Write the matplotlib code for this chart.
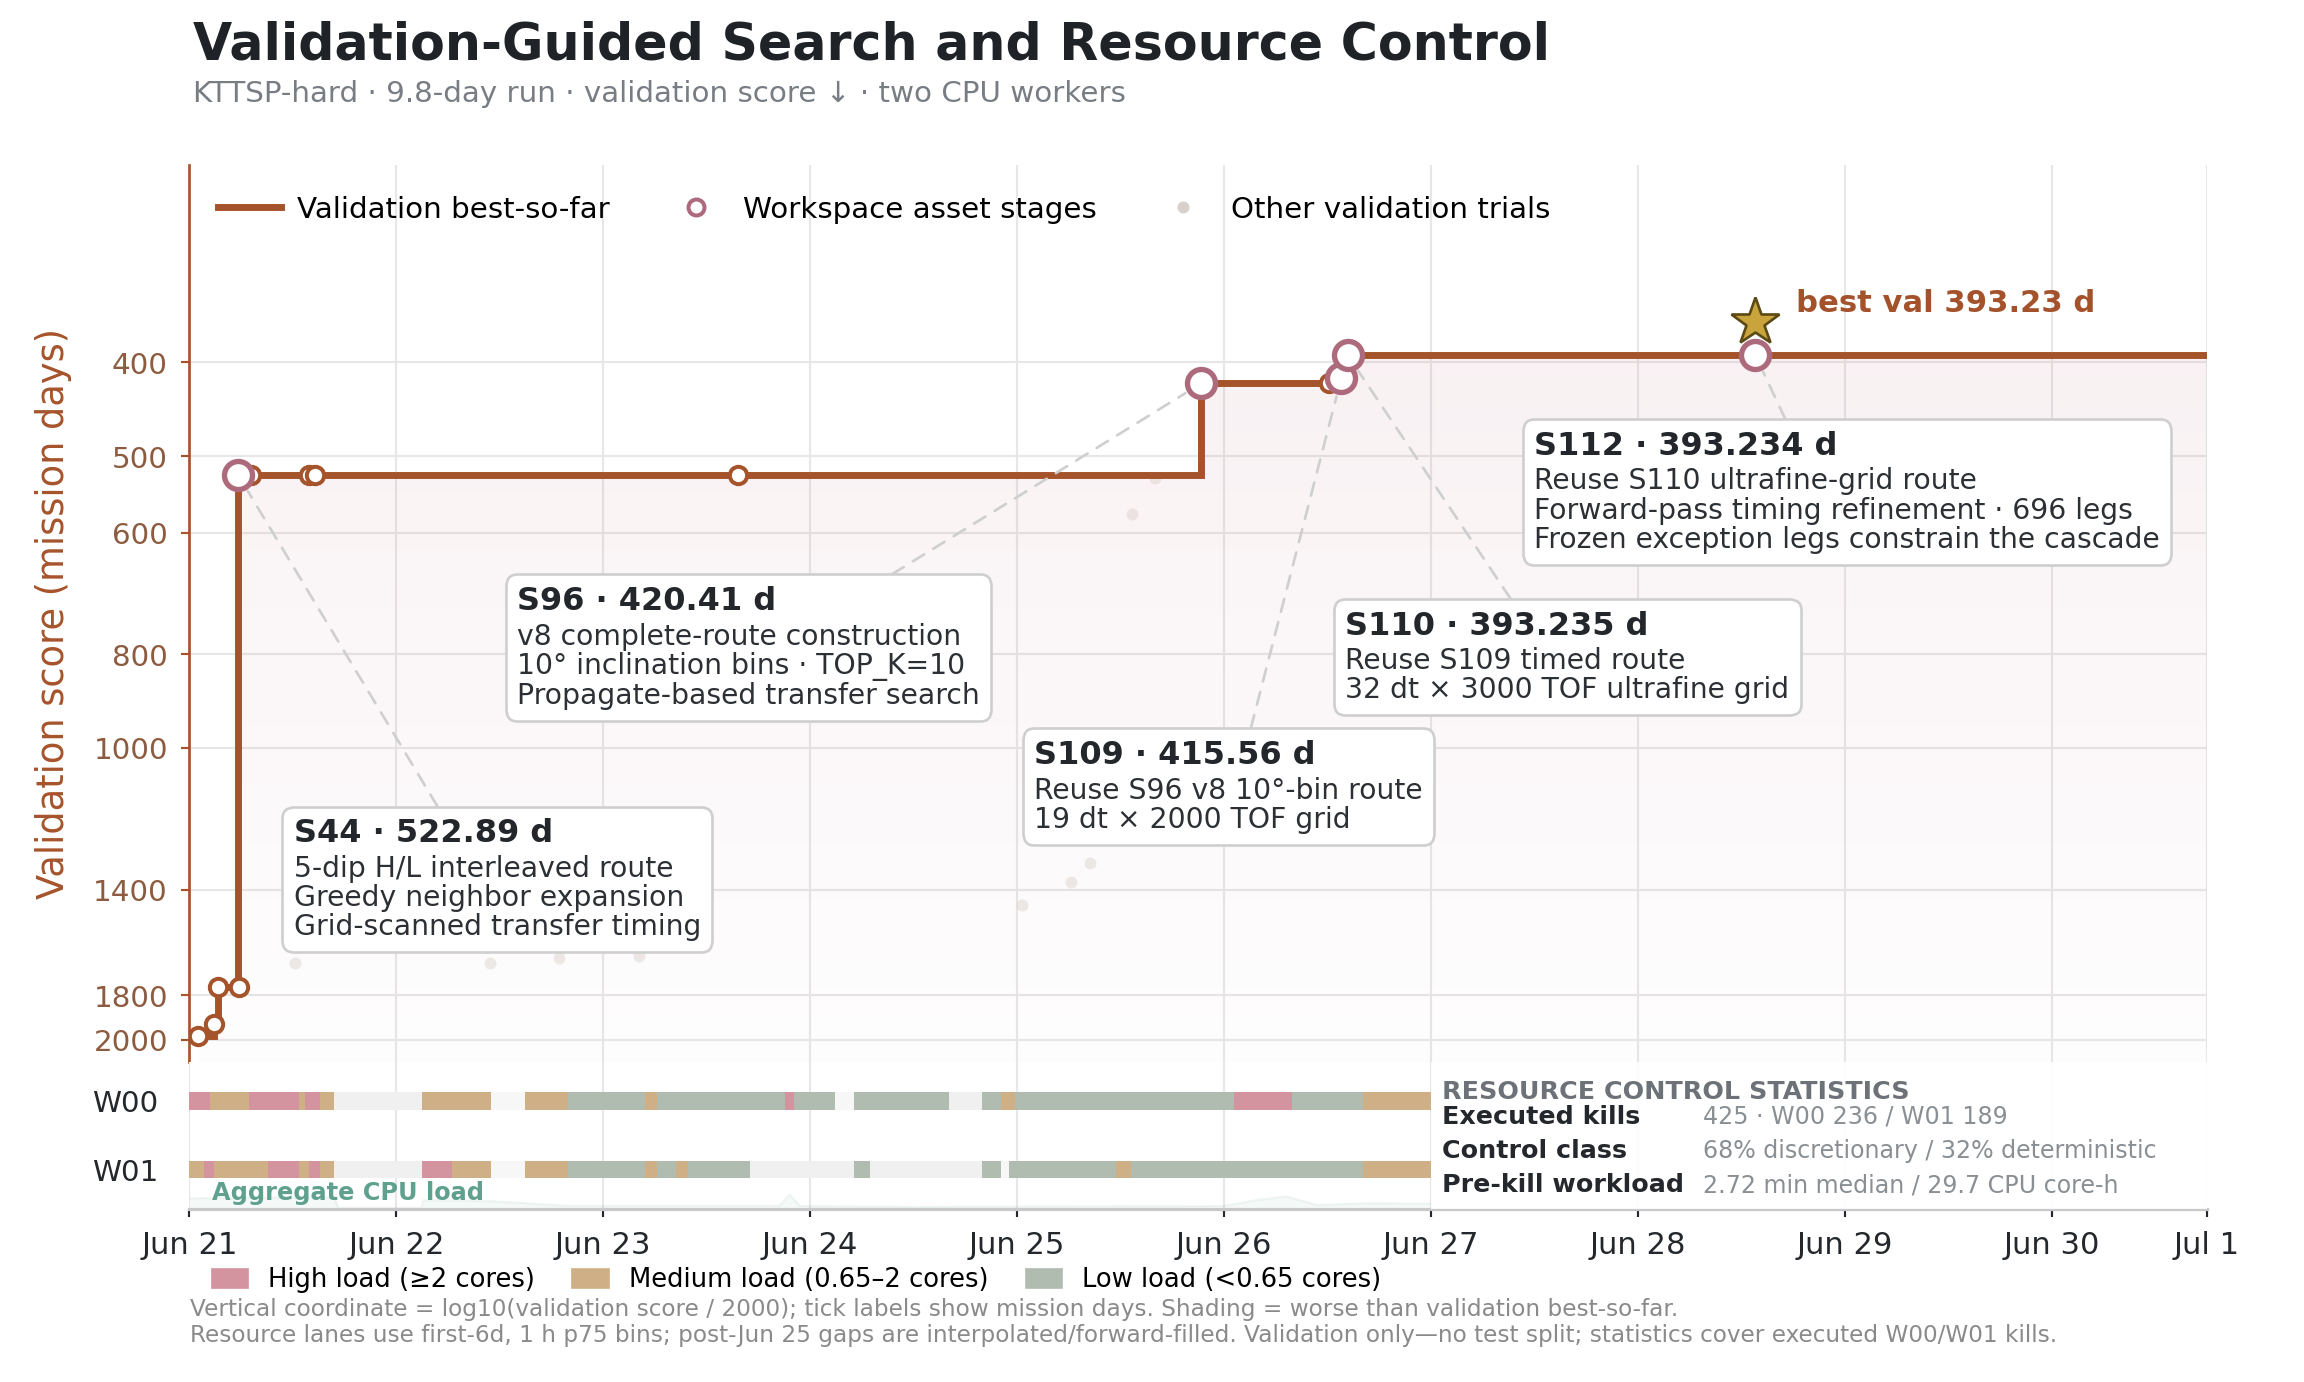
import math
from datetime import date, timedelta

import numpy as np
import matplotlib
matplotlib.use("Agg")
import matplotlib.pyplot as plt
from matplotlib import transforms
from matplotlib.lines import Line2D
from matplotlib.patches import Patch, Polygon, Rectangle
from matplotlib.offsetbox import TextArea, VPacker, AnnotationBbox

START = date(2025, 6, 21)
RUN_DAYS = 9.75

# validation best-so-far improvements (days since Jun 21, mission days)
best_t = [0.042, 0.12, 0.14, 0.236, 4.89, 5.566, 5.598, 7.567]
best_v = [1981, 1925, 1762, 522.89, 420.41, 415.56, 393.235, 393.234]

# workspace asset stages that did not get a callout
stage_t = [0.042, 0.12, 0.14, 0.24, 0.298, 0.577, 0.606, 2.65, 5.505]
stage_v = [1981, 1925, 1762, 1762, 522.89, 522.89, 522.89, 522.89, 420.41]

# called-out stages
key_t = [0.236, 4.89, 5.566, 5.598, 7.567]
key_v = [522.89, 420.41, 415.56, 393.235, 393.234]
key_title = ["S44 · 522.89 d", "S96 · 420.41 d", "S109 · 415.56 d",
             "S110 · 393.235 d", "S112 · 393.234 d"]
key_notes = [
    "5-dip H/L interleaved route\nGreedy neighbor expansion\nGrid-scanned transfer timing",
    "v8 complete-route construction\n10° inclination bins · TOP_K=10\nPropagate-based transfer search",
    "Reuse S96 v8 10°-bin route\n19 dt × 2000 TOF grid",
    "Reuse S109 timed route\n32 dt × 3000 TOF ultrafine grid",
    "Reuse S110 ultrafine-grid route\nForward-pass timing refinement · 696 legs\nFrozen exception legs constrain the cascade",
]

# other validation trials
trial_t = [0.511, 1.453, 1.787, 2.174, 4.025, 4.26, 4.352, 4.556, 4.667]
trial_v = [1668, 1668, 1646, 1638, 1452, 1376, 1315, 574, 527]

ytick_vals = [400, 500, 600, 800, 1000, 1400, 1800, 2000]

# resource lanes: (start day, end day, load class); G = no sample
w00_segs = [(0.00, 0.10, "H"), (0.10, 0.29, "M"), (0.29, 0.53, "H"), (0.53, 0.56, "M"),
            (0.56, 0.63, "H"), (0.63, 0.70, "M"), (0.70, 1.126, "G"), (1.126, 1.458, "M"),
            (1.62, 1.83, "M"), (1.83, 2.20, "L"), (2.20, 2.26, "M"), (2.26, 2.88, "L"),
            (2.88, 2.92, "H"), (2.92, 3.12, "L"), (3.21, 3.67, "L"), (3.67, 3.83, "G"),
            (3.83, 3.92, "L"), (3.92, 3.99, "M"), (3.99, 5.05, "L"), (5.05, 5.33, "H"),
            (5.33, 5.67, "L"), (5.67, 6.00, "M")]
w01_segs = [(0.00, 0.07, "M"), (0.07, 0.12, "H"), (0.12, 0.38, "M"), (0.38, 0.53, "H"),
            (0.53, 0.58, "M"), (0.58, 0.63, "H"), (0.63, 0.70, "M"), (0.70, 1.126, "G"),
            (1.126, 1.27, "H"), (1.27, 1.458, "M"), (1.62, 1.83, "M"), (1.83, 2.20, "L"),
            (2.20, 2.26, "M"), (2.26, 2.35, "L"), (2.35, 2.41, "M"), (2.41, 2.71, "L"),
            (2.71, 3.21, "G"), (3.21, 3.29, "L"), (3.29, 3.83, "G"), (3.83, 3.92, "L"),
            (3.96, 4.48, "L"), (4.48, 4.55, "M"), (4.55, 5.67, "L"), (5.67, 6.00, "M")]
LANE_END = 6.0

# aggregate CPU load (cores), coarse
agg_t = [0.0, 0.7, 0.72, 1.12, 1.13, 1.46, 1.62, 1.83, 2.85, 2.9, 2.95, 3.5, 4.0, 5.0, 5.15, 5.3, 5.45, 5.7, 6.0]
agg_v = [2.2, 2.4, 0.2, 0.2, 1.8, 1.6, 1.2, 0.6, 0.6, 3.0, 0.6, 0.4, 0.5, 0.6, 1.8, 2.6, 0.8, 1.2, 1.1]

stats_labels = ["Executed kills", "Control class", "Pre-kill workload"]
stats_values = ["425 · W00 236 / W01 189", "68% discretionary / 32% deterministic",
                "2.72 min median / 29.7 CPU core-h"]

LINE = "#a5532b"
MAUVE = "#ad6a7c"
TRIAL = "#d8d0ca"
LOAD_COL = {"H": "#d4949f", "M": "#cfb086", "L": "#b0bcaf", "G": "#f0f0f0"}
GRID = "#e7e7e7"


def yv(v):
    return math.log10(v / 2000.0)


fig = plt.figure(figsize=(12, 7.2), dpi=192)
ax = fig.add_axes([0.0822, 0.2316, 0.8757, 0.6490])
ax2 = fig.add_axes([0.0822, 0.1252, 0.8757, 0.1064], sharex=ax)

y_top, y_bot = -0.903, 0.0227

# best-so-far step path
xs, ys = [best_t[0]], [yv(best_v[0])]
for i in range(1, len(best_t)):
    xs += [best_t[i], best_t[i]]
    ys += [yv(best_v[i - 1]), yv(best_v[i])]
xs.append(RUN_DAYS)
ys.append(yv(best_v[-1]))

# gradient shading below best-so-far
verts = list(zip(xs, ys)) + [(RUN_DAYS, y_bot), (xs[0], y_bot)]
clip = Polygon(verts, closed=True, facecolor="none", edgecolor="none")
ax.add_patch(clip)
grad = np.zeros((256, 1, 4))
grad[..., 0], grad[..., 1], grad[..., 2] = 0.78, 0.49, 0.55
grad[:, 0, 3] = np.linspace(0.01, 0.13, 256)
im = ax.imshow(grad, extent=(0, RUN_DAYS, y_bot, y_top), origin="lower",
               aspect="auto", zorder=1, interpolation="bicubic")
im.set_clip_path(clip)

ax.plot(trial_t, [yv(v) for v in trial_v], "o", ms=4.5, color=TRIAL,
        alpha=0.45, mec="none", zorder=2)
ax.plot(xs, ys, color=LINE, lw=2.6, zorder=3, solid_joinstyle="miter")
ax.plot(stage_t, [yv(v) for v in stage_v], "o", ms=6.5, mfc="white", mec=LINE,
        mew=1.5, zorder=4)
ax.plot(key_t, [yv(v) for v in key_v], "o", ms=10.5, mfc="white", mec=MAUVE,
        mew=2.0, zorder=5)

# best marker
bi = int(np.argmin(best_v))
bt, bv = best_t[bi], best_v[bi]
star_tr = transforms.offset_copy(ax.transData, fig=fig, x=0, y=12.4, units="points")
ax.plot(bt, yv(bv), marker="*", ms=19, mfc="#c9a33c", mec="#5c4a14", mew=1,
        transform=star_tr, zorder=6, clip_on=False)
ax.annotate(f"best val {math.floor(bv * 100) / 100:.2f} d", xy=(bt, yv(bv)),
            xytext=(15.4, 19.4), textcoords="offset points", fontsize=11.5,
            fontweight="bold", color="#a3522b", va="center", ha="left")

# callouts
box_pos = [(0.504, 0.229), (1.583, 0.4685), (4.082, 0.3096), (5.585, 0.4432), (6.499, 0.6285)]
rel_pos = [(0.37, 1.0), (0.77, 1.0), (0.55, 1.0), (0.39, 1.0), (0.41, 1.0)]
for i in range(len(key_t)):
    title = TextArea(key_title[i], textprops=dict(fontsize=12, fontweight="bold", color="#23272b"))
    body = TextArea(key_notes[i], textprops=dict(fontsize=10.6, color="#2c3034", linespacing=1.05))
    pack = VPacker(children=[title, body], align="left", pad=0, sep=2)
    bx, bl = box_pos[i]
    ab = AnnotationBbox(pack, (key_t[i], yv(key_v[i])), xybox=(bx, -bl),
                        xycoords="data", boxcoords="data", box_alignment=(0, 1),
                        frameon=True, pad=0.4, fontsize=10.6,
                        bboxprops=dict(boxstyle="round,pad=0.4", fc="white", ec="#cfcfcf", lw=1.0),
                        arrowprops=dict(arrowstyle="-", color="#cfcfcf", lw=1.0, ls=(0, (5, 4)),
                                        relpos=rel_pos[i], shrinkA=0, shrinkB=7))
    ab.set_zorder(7)
    ax.add_artist(ab)

ax.set_xlim(0, RUN_DAYS)
ax.set_ylim(y_bot, y_top)
ax.set_yticks([yv(v) for v in ytick_vals])
ax.set_yticklabels([str(v) for v in ytick_vals])
ax.tick_params(axis="y", colors=LINE, labelcolor="#8d5b3f", labelsize=11, length=3, pad=5)
ax.tick_params(axis="x", bottom=False, labelbottom=False)
ax.set_ylabel("Validation score (mission days)", fontsize=13.8, color=LINE, labelpad=8)
for s in ["top", "right", "bottom"]:
    ax.spines[s].set_visible(False)
ax.spines["left"].set_color(LINE)
ax.spines["left"].set_linewidth(1.0)
ax.grid(True, color=GRID, lw=0.8, zorder=0)
ax.set_axisbelow(True)

leg_handles = [
    Line2D([], [], color=LINE, lw=2.6),
    Line2D([], [], ls="none", marker="o", ms=6, mfc="white", mec=MAUVE, mew=1.5),
    Line2D([], [], ls="none", marker="o", ms=4.5, color=TRIAL, mec="none"),
]
ax.legend(leg_handles, ["Validation best-so-far", "Workspace asset stages", "Other validation trials"],
          loc="center left", bbox_to_anchor=(0.0142, 0.95), ncol=3, frameon=False,
          fontsize=11, handlelength=2.15, handletextpad=0.55, columnspacing=1.85,
          borderpad=0, borderaxespad=0)

# resource lanes
lane_y = {"W00": 1, "W01": 0}
ax2.barh(1, LANE_END, left=0, height=0.255, color="#f7f7f7", zorder=1)
ax2.barh(0, LANE_END, left=0, height=0.255, color="#f7f7f7", zorder=1)
for name, segs in (("W00", w00_segs), ("W01", w01_segs)):
    for a, b, c in segs:
        ax2.barh(lane_y[name], b - a, left=a, height=0.255, color=LOAD_COL[c],
                 lw=0, zorder=2)

lane_bot = -0.577
agg_y = [lane_bot + v * 0.07 for v in agg_v]
ax2.fill_between(agg_t, lane_bot, agg_y, color="#7fb3a5", alpha=0.07, lw=0, zorder=1)
ax2.plot(agg_t, agg_y, color="#7fb3a5", alpha=0.12, lw=0.8, zorder=1)
ax2.text(0.109, -0.343, "Aggregate CPU load", fontsize=9, fontweight="bold",
         color="#5fa18e", va="center", ha="left", zorder=4)

ax2.add_patch(Rectangle((LANE_END, lane_bot), RUN_DAYS - LANE_END, 1.57 - lane_bot,
                        fc="white", ec="none", alpha=0.88, zorder=3))
ax2.text(6.052, 1.136, "RESOURCE CONTROL STATISTICS", fontsize=9.5, fontweight="bold",
         color="#6c7278", va="center", ha="left", zorder=4)
for row, (lab, val) in enumerate(zip(stats_labels, stats_values)):
    yy = [0.771, 0.274, -0.226][row]
    ax2.text(6.052, yy, lab, fontsize=9.5, fontweight="bold", color="#24282c",
             va="center", ha="left", zorder=4)
    ax2.text(7.314, yy, val, fontsize=8.9, color="#8a8f94", va="center", ha="left", zorder=4)

ax2.set_ylim(lane_bot, 1.57)
ax2.set_yticks([1, 0])
ax2.set_yticklabels(["W00", "W01"])
ax2.tick_params(axis="y", length=0, labelsize=11, labelcolor="#24282c", pad=11.5)
xt = list(range(0, int(RUN_DAYS) + 1)) + [RUN_DAYS]
xl = []
for t in xt:
    d = START + timedelta(days=round(t))
    xl.append(f"{d:%b} {d.day}")
ax2.set_xticks(xt)
ax2.set_xticklabels(xl)
ax2.tick_params(axis="x", labelsize=11.5, colors="#24282c", length=3, pad=5)
for s in ["top", "right", "left"]:
    ax2.spines[s].set_visible(False)
ax2.spines["bottom"].set_color("#c8c8c8")
ax2.spines["bottom"].set_linewidth(1.2)
ax2.grid(True, axis="x", color=GRID, lw=0.8, zorder=0)
ax2.set_axisbelow(True)
ax.set_xticks(xt)

# titles and notes
fig.text(0.0838, 0.957, "Validation-Guided Search and Resource Control", fontsize=19,
         fontweight="bold", color="#1f2328", va="baseline", ha="left")
fig.text(0.0838, 0.926, "KTTSP-hard · 9.8-day run · validation score ↓ · two CPU workers",
         fontsize=11, color="#777d83", va="baseline", ha="left")

load_handles = [Patch(color=LOAD_COL["H"]), Patch(color=LOAD_COL["M"]), Patch(color=LOAD_COL["L"])]
fig.legend(load_handles, ["High load (≥2 cores)", "Medium load (0.65–2 cores)", "Low load (<0.65 cores)"],
           loc="center left", bbox_to_anchor=(0.092, 0.0738), ncol=3, frameon=False,
           fontsize=9.7, handlelength=1.37, handleheight=0.67, handletextpad=0.8,
           columnspacing=1.45, borderpad=0, borderaxespad=0)
fig.text(0.0825, 0.0478, "Vertical coordinate = log10(validation score / 2000); tick labels show mission days. "
         "Shading = worse than validation best-so-far.", fontsize=8.7, color="#8a8a8a", va="baseline")
fig.text(0.0825, 0.0289, "Resource lanes use first-6d, 1 h p75 bins; post-Jun 25 gaps are interpolated/forward-filled. "
         "Validation only—no test split; statistics cover executed W00/W01 kills.",
         fontsize=8.7, color="#8a8a8a", va="baseline")

fig.savefig("out.png", dpi=192)
